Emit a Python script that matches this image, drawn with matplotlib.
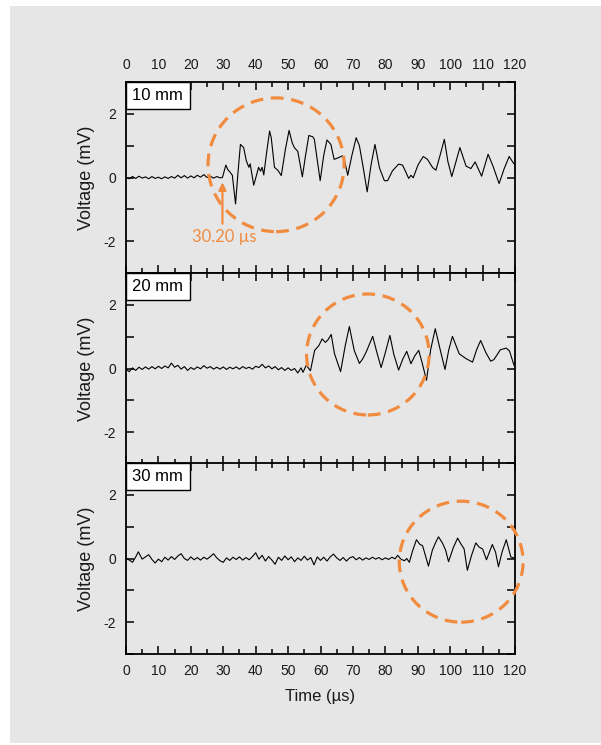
import matplotlib
matplotlib.use("Agg")
import matplotlib.pyplot as plt
from matplotlib.patches import Ellipse, Rectangle
from matplotlib.ticker import MultipleLocator, FuncFormatter

plt.rcParams['font.family'] = ['Liberation Sans', 'DejaVu Sans']

# --- datos (tiempo en us, voltaje en mV) ---
t_10 = [0, 1, 2, 3, 4, 5, 6, 7, 8, 9, 10, 11, 12, 13, 14, 15, 16, 17, 18, 19,
        20, 21, 22, 23, 24, 25, 26, 27, 28, 29, 29.75,
        30.8, 31.4, 32.0, 32.8, 33.8, 34.5, 35.3, 36.3, 37.1, 37.9, 38.3, 39.4,
        40.2, 40.9, 41.5, 42.0, 42.5, 43.4, 44.3, 44.8, 45.8, 46.9, 47.9, 49.2,
        50.3, 51.3, 52.0, 53.0, 54.4, 55.4, 56.4, 57.6, 58.1, 59.9, 61.0, 62.0,
        63.2, 64.2, 65.5, 66.8, 67.6, 68.4, 69.7, 71.0, 72.0, 73.2, 74.4, 75.6,
        76.8, 78.2, 79.7, 80.7, 82.2, 84.1, 85.3, 86.2, 87.2, 87.9, 88.6, 90.1,
        91.7, 93.0, 94.6, 95.6, 96.9, 98.2, 99.3, 100.5, 101.8, 103.0, 104.9,
        106.4, 107.7, 109.7, 111.7, 113.2, 115.1, 116.6, 118.2, 119.4, 120]
v_10 = [0.00, -0.04, 0.03, -0.03, 0.04, -0.02, 0.02, -0.04, 0.03, -0.03,
        0.01, -0.04, 0.02, -0.03, 0.03, -0.02, 0.07, -0.01, 0.06, -0.02,
        0.05, -0.01, 0.07, 0.01, 0.09, 0.00, 0.04, -0.02, 0.03, -0.01, 0.00,
        0.39, 0.25, 0.18, 0.07, -0.83, 0.10, 1.04, 0.94, 0.53, 0.32, 0.43, -0.24,
        0.05, 0.32, 0.20, 0.32, 0.08, 0.80, 1.46, 1.25, 0.32, 0.22, 0.06, 0.90,
        1.48, 1.08, 0.93, 0.82, 0.02, 0.70, 1.32, 1.28, 1.20, -0.10, 0.70, 1.18,
        1.04, 0.57, 0.62, 0.68, 0.45, 0.07, 0.70, 1.25, 1.00, 0.30, -0.45, 0.40,
        1.04, 0.30, -0.10, -0.10, 0.21, 0.42, 0.39, 0.20, -0.03, 0.07, -0.01, 0.40,
        0.66, 0.57, 0.31, 0.23, 0.70, 1.20, 0.50, 0.03, 0.50, 0.94, 0.36,
        0.28, 0.49, 0.04, 0.73, 0.36, -0.19, 0.26, 0.66, 0.47, 0.40]

t_20 = [0, 1, 2, 3, 4, 5, 6, 7, 8, 9, 10, 11, 12, 13, 14, 15, 16, 17, 18, 19,
        20, 21, 22, 23, 24, 25, 26, 27, 28, 29, 30, 31, 32, 33, 34, 35, 36, 37,
        38, 39, 40, 41, 42, 43, 44, 45, 46, 47, 48, 49, 50, 51, 52, 53, 54,
        54.6, 55.6, 56.9, 58.2, 59.5, 60.5, 61.5, 62.3, 63.3, 64.3, 66.2, 67.6,
        68.9, 70.4, 72.0, 73.0, 74.1, 76.1, 77.4, 78.7, 80.0, 81.4, 82.6, 84.1,
        85.4, 86.6, 87.9, 89.1, 90.3, 91.3, 92.7, 94.0, 95.4, 96.9, 98.4, 99.6,
        100.7, 102.8, 104.9, 106.9, 108.2, 109.4, 111.0, 112.5, 113.5, 115.5,
        117.3, 118.3, 119.7, 120]
v_20 = [-0.02, -0.10, 0.02, -0.06, 0.04, -0.03, 0.05, -0.02, 0.06, -0.01,
        0.07, 0.00, 0.08, 0.02, 0.17, 0.04, 0.10, -0.02, 0.06, -0.06,
        0.03, -0.03, 0.05, -0.01, 0.09, 0.01, 0.06, -0.02, 0.04, -0.02,
        0.05, -0.03, 0.04, -0.01, 0.05, -0.02, 0.06, 0.00, 0.04, -0.02,
        0.07, 0.03, 0.13, 0.02, 0.08, -0.01, 0.06, -0.04, 0.03, -0.06,
        0.02, -0.06, 0.00, -0.14, 0.02,
        -0.12, 0.10, -0.07, 0.57, 0.72, 0.93, 0.82, 0.90, 1.07, 0.47, -0.10, 0.70,
        1.32, 0.57, 0.16, 0.30, 0.52, 1.01, 0.50, 0.03, 0.50, 1.04, 0.45, -0.05,
        0.30, 0.54, 0.15, 0.40, 0.57, 0.20, -0.37, 0.60, 1.25, 0.60, -0.03, 0.60,
        1.01, 0.46, 0.31, 0.20, 0.60, 0.88, 0.50, 0.23, 0.28, 0.59,
        0.64, 0.55, 0.10, 0.10]

t_30 = [0, 1, 2, 3, 3.8, 5, 6, 7, 8, 9, 10, 11, 12, 13, 14, 15, 16, 17, 18, 19,
        20, 21, 22, 23, 24, 25, 26, 27, 28, 29, 30, 31, 32, 33, 34, 35, 36, 37,
        38, 39, 40, 41, 42, 43, 44, 45, 46, 47, 48, 49, 50, 51, 52, 53, 54, 55,
        56, 57, 58, 59, 60, 61, 62, 63, 64, 65, 66, 67, 68, 69, 70, 71, 72, 73,
        74, 75, 76, 77, 78, 79, 80, 81, 82, 83, 83.8, 84.8, 85.9, 86.6, 87.4,
        88.4, 89.6, 90.6, 91.5, 93.3, 94.5, 95.5, 96.4, 97.6, 98.6, 99.5, 101.0,
        102.3, 103.3, 104.3, 105.3, 106.6, 107.9, 108.9, 110.0, 111.2, 113.0,
        114.0, 114.9, 116.0, 117.3, 118.7, 120]
v_30 = [0.02, -0.05, -0.12, 0.05, 0.21, -0.02, 0.05, 0.12, -0.03, -0.14,
        -0.02, -0.10, 0.04, -0.05, 0.06, -0.03, 0.08, 0.15, 0.00, -0.06,
        0.05, -0.04, 0.03, -0.05, 0.04, -0.02, 0.06, 0.15, 0.02, -0.07,
        -0.12, 0.02, -0.06, 0.04, -0.03, 0.05, -0.05, 0.03, -0.04, 0.06,
        0.18, -0.02, 0.10, -0.08, 0.06, -0.05, -0.18, 0.04, -0.06, 0.08,
        -0.04, 0.05, -0.10, 0.02, -0.06, 0.07, -0.05, 0.03, -0.20, 0.05,
        -0.06, 0.04, -0.08, 0.05, 0.14, 0.02, -0.06, 0.03, -0.08, 0.02,
        0.06, -0.04, 0.03, -0.05, 0.02, -0.03, 0.04, -0.02, 0.03, -0.04,
        0.02, -0.03, 0.04, -0.01, 0.10, -0.02, -0.07, 0.00, -0.12,
        0.24, 0.59, 0.45, 0.40, -0.24, 0.26, 0.50, 0.68, 0.49, 0.26, -0.10, 0.35,
        0.64, 0.46, 0.30, -0.37, 0.10, 0.49, 0.36, 0.30, -0.04, 0.44,
        0.20, -0.26, 0.20, 0.59, 0.05, 0.00]

etiquetas = ['10 mm', '20 mm', '30 mm']
tiempos = [t_10, t_20, t_30]
voltajes = [v_10, v_20, v_30]
# circulos: centro (us, mV), ancho (us), alto (mV)
circulos = [((46.3, 0.40), 42.0, 4.2),
            ((74.6, 0.44), 37.8, 3.8),
            ((103.4, -0.10), 38.2, 3.8)]

naranja = '#f08b3f'
gris = '#e6e6e6'

fig = plt.figure(figsize=(6.01, 7.45), dpi=100)
fig.patch.set_facecolor('white')
fondo = Rectangle((10 / 601, 2 / 745), 591 / 601, 737 / 745,
                  transform=fig.transFigure, facecolor=gris,
                  edgecolor='none', zorder=-10)
fig.patches.append(fondo)

izq = 126 / 601
ancho = 389 / 601
alto = 191 / 745
abajos = [1 - 273 / 745, 1 - 464 / 745, 1 - 654 / 745]

ejes = []
for i in range(3):
    ax = fig.add_axes([izq, abajos[i], ancho, alto])
    ax.set_facecolor(gris)
    ax.plot(tiempos[i], voltajes[i], color='black', lw=0.8)
    ax.set_xlim(0, 120)
    ax.set_ylim(-3, 3)
    ax.xaxis.set_major_locator(MultipleLocator(10))
    ax.xaxis.set_minor_locator(MultipleLocator(5))
    ax.yaxis.set_major_locator(MultipleLocator(2))
    ax.yaxis.set_minor_locator(MultipleLocator(1))
    ax.yaxis.set_major_formatter(FuncFormatter(lambda v, p: f'{v:g}'))
    ax.tick_params(which='both', direction='in', top=True, right=True,
                   labelsize=10, labelcolor='#1a1a1a', width=1.1)
    ax.tick_params(which='major', length=6, pad=7)
    ax.tick_params(which='minor', length=3.5)
    ax.tick_params(axis='y', which='minor', length=6)
    ax.tick_params(axis='x', labeltop=(i == 0), labelbottom=(i == 2))
    for s in ax.spines.values():
        s.set_linewidth(1.3)
    ax.set_ylabel('Voltage (mV)', fontsize=13, color='#1a1a1a', labelpad=6)

    # cuadro de la etiqueta pegado a la esquina superior izquierda
    ax.annotate(etiquetas[i], xy=(0, 1), xycoords='axes fraction',
                xytext=(4.6, -4.4), textcoords='offset points', ha='left', va='top',
                fontsize=12, color='black', zorder=5,
                bbox=dict(boxstyle='square,pad=0.38', fc='white', ec='black', lw=1.0))

    (cx, cy), w, h = circulos[i]
    ax.add_patch(Ellipse((cx, cy), w, h, fill=False, edgecolor=naranja, lw=2.3,
                         linestyle=(0, (4, 2.4)), clip_on=False, zorder=4))
    ejes.append(ax)

ejes[2].set_xlabel('Time (µs)', fontsize=12, color='#1a1a1a', labelpad=8)

# flecha de llegada en el primer panel
ejes[0].annotate('', xy=(29.75, -0.15), xytext=(29.75, -1.45),
                 arrowprops=dict(arrowstyle='-|>', color=naranja, lw=1.6,
                                 mutation_scale=11, shrinkA=0, shrinkB=0))
ejes[0].text(30.2, -1.87, '30.20 µs', color=naranja, fontsize=12,
             family=['Lato', 'DejaVu Sans'], ha='center', va='center')

fig.savefig('out.png', dpi=100, facecolor='white')
